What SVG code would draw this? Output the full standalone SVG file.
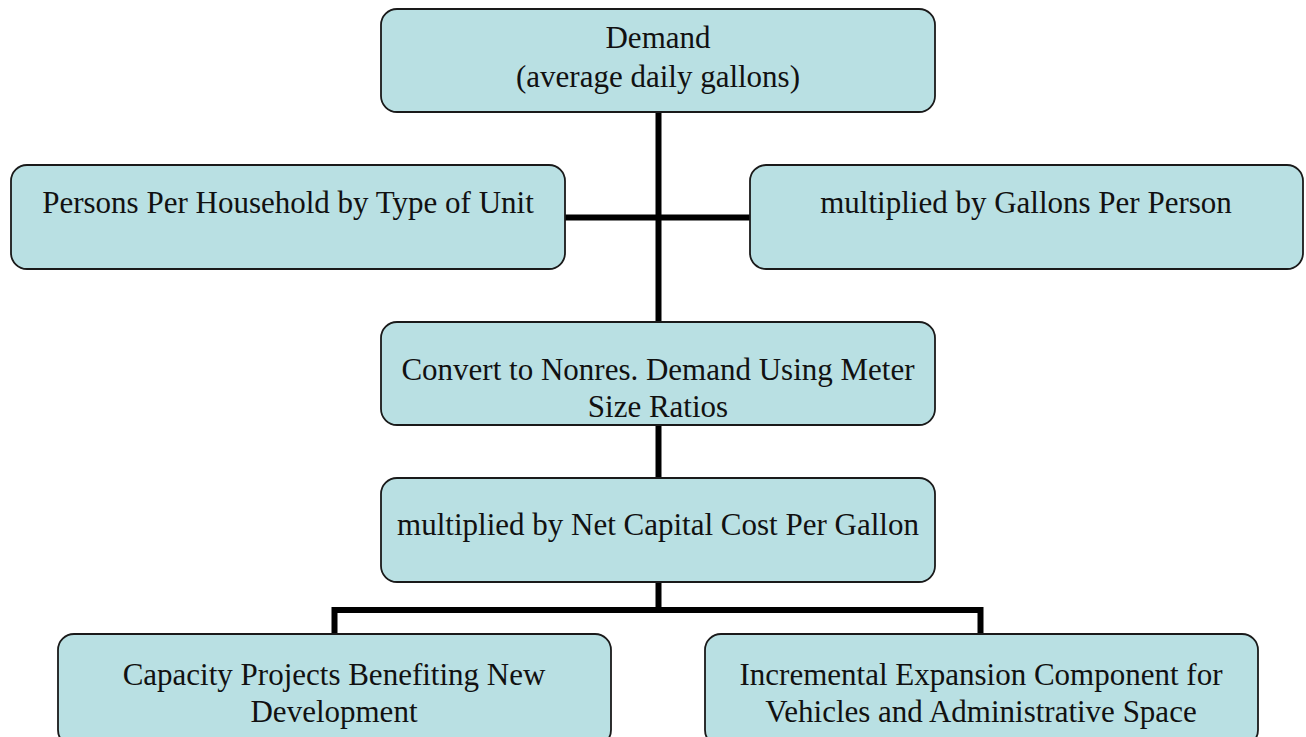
<svg xmlns="http://www.w3.org/2000/svg" width="1306" height="737" viewBox="0 0 1306 737">
<style>
.box{fill:#B9E0E3;stroke:#1a1a1a;stroke-width:1.8}
.t{font-family:"Liberation Serif","Times New Roman",serif;font-size:31px;fill:#111;text-anchor:middle}
.c{stroke:#000;stroke-width:6;fill:none}
</style>
<rect width="1306" height="737" fill="#fff"/>
<g id="connectors">
<line class="c" x1="658.5" y1="112" x2="658.5" y2="322"/>
<line class="c" x1="565" y1="217.5" x2="751" y2="217.5"/>
<line class="c" x1="658.5" y1="425" x2="658.5" y2="479"/>
<path class="c" d="M658.5 582 V610 M334.5 634 V610 H980.5 V634"/>
</g>
<g id="n-demand">
<rect class="box" x="381" y="9" width="554" height="103" rx="16"/>
<text class="t" x="658" y="48">Demand</text>
<text class="t" x="658" y="87">(average daily gallons)</text>
</g>
<g id="n-persons">
<rect class="box" x="11" y="165" width="554" height="104" rx="16"/>
<text class="t" x="288" y="213">Persons Per Household by Type of Unit</text>
</g>
<g id="n-gallons">
<rect class="box" x="750" y="165" width="553" height="104" rx="16"/>
<text class="t" x="1026" y="213">multiplied by Gallons Per Person</text>
</g>
<g id="n-convert">
<rect class="box" x="381" y="322" width="554" height="103" rx="16"/>
<text class="t" x="658" y="380">Convert to Nonres. Demand Using Meter</text>
<text class="t" x="658" y="417">Size Ratios</text>
</g>
<g id="n-netcost">
<rect class="box" x="381" y="478" width="554" height="104" rx="16"/>
<text class="t" x="658" y="535">multiplied by Net Capital Cost Per Gallon</text>
</g>
<g id="n-capacity">
<rect class="box" x="58" y="634" width="553" height="112" rx="16"/>
<text class="t" x="334" y="685">Capacity Projects Benefiting New</text>
<text class="t" x="334" y="722">Development</text>
</g>
<g id="n-incremental">
<rect class="box" x="705" y="634" width="553" height="112" rx="16"/>
<text class="t" x="981" y="685">Incremental Expansion Component for</text>
<text class="t" x="981" y="722">Vehicles and Administrative Space</text>
</g>
</svg>
